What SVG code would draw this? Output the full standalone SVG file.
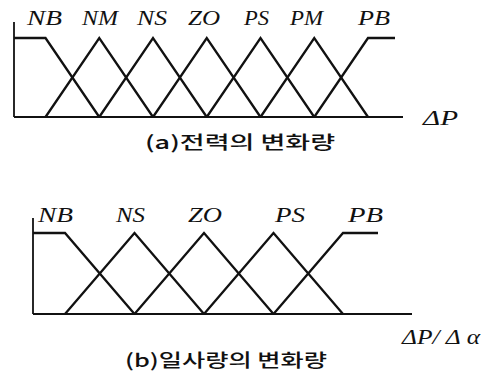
<svg xmlns="http://www.w3.org/2000/svg" width="491" height="372" viewBox="0 0 491 372">
  <style>
    .mf { fill: none; stroke: #111; stroke-width: 2.3; stroke-linejoin: miter; }
    .ax { fill: none; stroke: #111; stroke-width: 1.8; }
    .lbl { font-family: "Liberation Serif", "Times New Roman", serif; font-style: italic; font-size: 20px; fill: #111; }
    .cap { font-family: "Noto Sans CJK KR", "Noto Sans", sans-serif; font-size: 18px; font-weight: 500; fill: #111; }
  </style>
  <rect width="491" height="372" fill="#fff"/>

  <!-- (a) membership functions for power change -->
  <g id="chart-a">
    <g id="axes-a">
      <line class="ax" x1="14" y1="22" x2="14" y2="117"/>
      <line class="ax" x1="14" y1="117" x2="403" y2="117"/>
    </g>
    <g id="sets-a">
      <polyline id="a-NB" class="mf" points="14,38 45.5,38 99.25,117"/>
      <polyline id="a-NM" class="mf" points="45.5,117 99.25,38 153,117"/>
      <polyline id="a-NS" class="mf" points="99.25,117 153,38 206.75,117"/>
      <polyline id="a-ZO" class="mf" points="153,117 206.75,38 260.5,117"/>
      <polyline id="a-PS" class="mf" points="206.75,117 260.5,38 314.25,117"/>
      <polyline id="a-PM" class="mf" points="260.5,117 314.25,38 368,117"/>
      <polyline id="a-PB" class="mf" points="314.25,117 368,38 395,38"/>
    </g>
    <g id="labels-a">
      <text class="lbl" x="27" y="25" textLength="35" lengthAdjust="spacingAndGlyphs">NB</text>
      <text class="lbl" x="82" y="25" textLength="36" lengthAdjust="spacingAndGlyphs">NM</text>
      <text class="lbl" x="137" y="25" textLength="30" lengthAdjust="spacingAndGlyphs">NS</text>
      <text class="lbl" x="188" y="25" textLength="32" lengthAdjust="spacingAndGlyphs">ZO</text>
      <text class="lbl" x="244" y="25" textLength="25" lengthAdjust="spacingAndGlyphs">PS</text>
      <text class="lbl" x="290" y="25" textLength="33" lengthAdjust="spacingAndGlyphs">PM</text>
      <text class="lbl" x="358" y="25" textLength="32" lengthAdjust="spacingAndGlyphs">PB</text>
      <text class="lbl" x="423" y="125" textLength="35" lengthAdjust="spacingAndGlyphs">ΔP</text>
    </g>
    <text class="cap" x="145" y="149" textLength="190" lengthAdjust="spacingAndGlyphs">(a)전력의 변화량</text>
  </g>

  <!-- (b) membership functions for insolation change -->
  <g id="chart-b">
    <g id="axes-b">
      <line class="ax" x1="33" y1="218" x2="33" y2="314"/>
      <line class="ax" x1="33" y1="314" x2="412" y2="314"/>
    </g>
    <g id="sets-b">
      <polyline id="b-NB" class="mf" points="33,233 65,233 134.5,314"/>
      <polyline id="b-NS" class="mf" points="65,314 134.5,233 204,314"/>
      <polyline id="b-ZO" class="mf" points="134.5,314 204,233 273.5,314"/>
      <polyline id="b-PS" class="mf" points="204,314 273.5,233 343,314"/>
      <polyline id="b-PB" class="mf" points="273.5,314 343,233 378,233"/>
    </g>
    <g id="labels-b">
      <text class="lbl" x="38" y="222" textLength="35" lengthAdjust="spacingAndGlyphs">NB</text>
      <text class="lbl" x="116" y="222" textLength="29" lengthAdjust="spacingAndGlyphs">NS</text>
      <text class="lbl" x="188" y="222" textLength="34" lengthAdjust="spacingAndGlyphs">ZO</text>
      <text class="lbl" x="275" y="222" textLength="30" lengthAdjust="spacingAndGlyphs">PS</text>
      <text class="lbl" x="348" y="222" textLength="35" lengthAdjust="spacingAndGlyphs">PB</text>
      <text class="lbl" x="402" y="344" textLength="78" lengthAdjust="spacingAndGlyphs">ΔP/ Δ α</text>
    </g>
    <text class="cap" x="125" y="367" textLength="202" lengthAdjust="spacingAndGlyphs">(b)일사량의 변화량</text>
  </g>
</svg>
